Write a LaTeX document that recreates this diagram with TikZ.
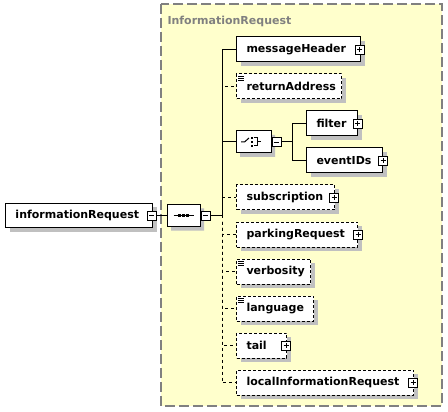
\documentclass[tikz,border=0pt]{standalone}
\usepackage{fontspec}
\setmainfont{DejaVu Sans}
\usepackage{tikz}
\usetikzlibrary{shapes.misc, shadows}

\definecolor{schemabg}{RGB}{255,255,204}
\definecolor{schemaline}{RGB}{128,128,128}
\definecolor{shadowgray}{RGB}{192,192,192}

\begin{document}
\begin{tikzpicture}[
    x=1pt, y=-1pt,
    line width=1pt,
    elem/.style={
        rectangle,
        draw=black,
        fill=white,
        anchor=west,
        minimum height=25pt,
        inner xsep=10pt,
        inner ysep=0pt,
        align=left,
        font=\fontsize{11}{13}\selectfont\bfseries,
        general shadow={fill=shadowgray, shadow xshift=4pt, shadow yshift=-4pt}
    },
    optelem/.style={elem, dash pattern=on 3pt off 2pt},
    docelem/.style={
        optelem,
        path picture={
            \foreach \d in {2,4,6}
                \draw[line width=0.8pt, solid]
                    ([xshift=1.5pt, yshift=-\d pt]path picture bounding box.north west) -- ++(6pt,0pt);
        }
    },
    compositor/.style={
        chamfered rectangle,
        chamfered rectangle xsep=5pt,
        draw=black,
        fill=white,
        minimum width=33pt,
        minimum height=22pt,
        inner sep=0pt,
        general shadow={fill=shadowgray, shadow xshift=4pt, shadow yshift=-4pt}
    },
    togglebox/.style={
        rectangle,
        draw=black,
        fill=white,
        line width=0.8pt,
        minimum size=9pt,
        inner sep=0pt
    },
    plusbox/.style={
        togglebox,
        path picture={
            \draw[line width=0.8pt] ([yshift=-2pt]path picture bounding box.north) -- ([yshift=2pt]path picture bounding box.south);
            \draw[line width=0.8pt] ([xshift=2pt]path picture bounding box.west) -- ([xshift=-2pt]path picture bounding box.east);
        }
    },
    minusbox/.style={
        togglebox,
        path picture={
            \draw[line width=0.8pt] ([xshift=2pt]path picture bounding box.west) -- ([xshift=-2pt]path picture bounding box.east);
        }
    },
    opt/.style={dash pattern=on 3pt off 3pt}
]

\useasboundingbox (0,0) rectangle (448,412);

% Type box
\draw[fill=schemabg, draw=schemaline, line width=1.3pt, dash pattern=on 10pt off 4pt]
    (161,4) rectangle (442,406);
\node[anchor=west, inner sep=0pt, text=schemaline, font=\fontsize{11}{13}\selectfont\bfseries]
    (title) at (167,21) {InformationRequest};

% Root element
\node[elem, minimum height=24pt, text width=127pt] (infoReq) at (5,215.5) {informationRequest};
\node[minusbox] (infoReqx) at ([xshift=-1.5pt]infoReq.east) {};

% Sequence
\node[compositor] (seq) at (183.5,215.5) {};
\node[minusbox, anchor=west] (seqx) at (seq.east) {};
\begin{scope}[shift={(seq.center)}]
    \draw (-10,0) -- (10,0);
    \foreach \i in {-4,0,4}
        \fill (\i,0) +(-1.5,-1.5) rectangle +(1.5,1.5);
\end{scope}
\coordinate (bus) at (222,215.5);

% Children
\node[elem, text width=104pt] (header) at (236,49.5) {messageHeader};
\node[plusbox] (headerx) at ([xshift=-1.5pt]header.east) {};

\node[docelem, text width=85pt] (retAddr) at (236,86.5) {returnAddress};

\node[compositor, minimum width=35pt] (choice) at (253.5,142) {};
\node[minusbox, anchor=west] (choicex) at (choice.east) {};
\begin{scope}[shift={(choice.center)}]
    \draw (-12.5,0) -- (-9,0) -- (-4.5,-4);
    \foreach \j in {-4,0,4}
        \fill (-2,\j) +(-1,-0.8) rectangle +(1,0.8);
    \draw (0,-4) -- (3.5,-4) -- (3.5,4) -- (0,4);
    \draw (3.5,0) -- (7.5,0);
\end{scope}

\node[elem, text width=31pt] (filter) at (306,123.5) {filter};
\node[plusbox] (filterx) at ([xshift=-0.5pt]filter.east) {};
\node[elem, text width=56pt] (eventIDs) at (306,160.5) {eventIDs};
\node[plusbox] (eventIDsx) at (eventIDs.east) {};

\node[optelem, text width=78pt] (subscr) at (236,197.5) {subscription};
\node[plusbox] (subscrx) at ([xshift=-1pt]subscr.east) {};

\node[optelem, text width=101pt] (parking) at (236,234.5) {parkingRequest};
\node[plusbox] (parkingx) at (parking.east) {};

\node[docelem, text width=54pt] (verbosity) at (236,271.5) {verbosity};

\node[docelem, text width=57pt] (language) at (236,308.5) {language};

\node[optelem, text width=30pt] (tail) at (236,345.5) {tail};
\node[plusbox] (tailx) at ([xshift=-1pt]tail.east) {};

\node[optelem, text width=157pt] (localReq) at (236,382.5) {localInformationRequest};
\node[plusbox] (localReqx) at ([xshift=-1pt]localReq.east) {};

% Connectors
\draw (infoReqx.east) -- (seq.west);
\draw (seqx.east) -- (bus);

\draw[opt] (bus) |- (retAddr.west);
\draw[opt] (bus) |- (subscr.west);
\draw[opt] (bus) |- (parking.west);
\draw[opt] (bus) |- (verbosity.west);
\draw[opt] (bus) |- (language.west);
\draw[opt] (bus) |- (tail.west);
\draw[opt] (bus) |- (localReq.west);
\draw (bus) |- (header.west);
\draw (bus) |- (choice.west);

\draw (choicex.east) -- ++(11,0) coordinate (cbus);
\draw (cbus) |- (filter.west);
\draw (cbus) |- (eventIDs.west);

\end{tikzpicture}
\end{document}
